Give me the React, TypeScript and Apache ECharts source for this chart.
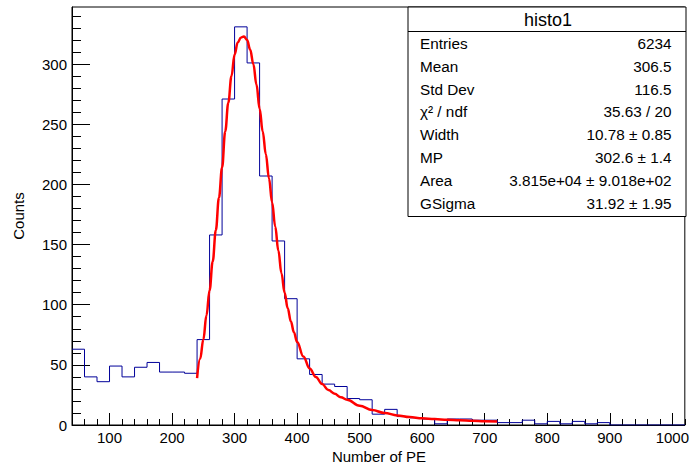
import React, { useEffect, useRef } from "react";
import * as echarts from "echarts";

// Histogram: bins of 20 starting at 40
const BIN_START = 40;
const BIN_WIDTH = 20;
const binCounts = [
  63, 40, 36, 49, 40, 48, 52, 44, 44, 43,
  71, 158, 271, 331, 301, 207, 153, 105, 55, 42,
  34, 32, 22, 21, 9, 13, 7, 6, 5, 1,
  5, 5, 4, 4, 2, 2, 4, 1, 3, 1,
  3, 1, 2, 0, 0, 0, 0, 0, 0,
];

// Fit curve
const fitX = [
  240, 245, 250, 255, 260, 265, 270, 275, 280, 285, 290, 295, 300, 305, 310, 315,
  320, 325, 330, 335, 340, 345, 350, 355, 360, 365, 370, 375, 380, 385, 390, 395,
  400, 410, 420, 430, 440, 450, 460, 470, 480, 500, 520, 540, 560, 580, 600, 620,
  640, 660, 680, 700, 720,
];
const fitY = [
  39, 55, 71, 91, 112, 136, 162, 189, 214, 244, 268, 290, 308, 318, 322, 323,
  320, 312, 300, 283, 263, 244, 225, 205, 185, 165, 145, 126, 110, 97, 86, 77,
  69, 57, 47, 40, 34, 29, 26, 23, 21, 16, 12.5, 10, 8, 6.6, 5.6, 4.9,
  4.3, 3.9, 3.5, 3.2, 2.9,
];

const xMajor = [100, 200, 300, 400, 500, 600, 700, 800, 900, 1000];
const yMajor = [0, 50, 100, 150, 200, 250, 300];

const statsTitle = "histo1";
const statLabels = ["Entries", "Mean", "Std Dev", "χ² / ndf", "Width", "MP", "Area", "GSigma"];
const statValues = [
  "6234",
  "306.5",
  "116.5",
  "35.63 / 20",
  "10.78 ± 0.85",
  "302.6 ± 1.4",
  "3.815e+04 ± 9.018e+02",
  "31.92 ± 1.95",
];

const X_MIN = 40;
const X_MAX = 1020;
const Y_MAX = 347.5;

export default function App() {
  const ref = useRef<HTMLDivElement>(null);
  useEffect(() => {
    if (!ref.current) return;
    const chart = echarts.init(ref.current, null, { renderer: "svg" });
    const font = "Liberation Sans, Arial, Helvetica, sans-serif";

    const histData: number[][] = binCounts.map((c, i) => [BIN_START + i * BIN_WIDTH, c]);
    histData.push([BIN_START + binCounts.length * BIN_WIDTH, binCounts[binCounts.length - 1]]);
    const fitData = fitX.map((x, i) => [x, fitY[i]]);

    const xMinor: number[] = [];
    for (let v = X_MIN; v <= X_MAX; v += 20) xMinor.push(v);
    const yMinor: number[] = [];
    for (let v = 0; v <= 340; v += 10) yMinor.push(v);

    const rowTop = 43.3;
    const rowStep = 22.86;
    const boxL = 408;
    const boxR = 686;
    const boxT = 7;
    const boxB = 216.5;

    const graphics: any[] = [
      {
        type: "rect",
        shape: { x: boxL, y: boxT, width: boxR - boxL, height: boxB - boxT },
        style: { fill: "#fff", stroke: "#000", lineWidth: 1 },
        z: 10,
      },
      {
        type: "line",
        shape: { x1: boxL, y1: 31.5, x2: boxR, y2: 31.5 },
        style: { stroke: "#000", lineWidth: 1 },
        z: 11,
      },
      {
        type: "text",
        x: 548,
        y: 20,
        style: {
          text: statsTitle,
          fontSize: 18,
          fontFamily: font,
          fill: "#000",
          align: "center",
          verticalAlign: "middle",
        },
        z: 11,
      },
      {
        type: "text",
        x: 379,
        y: 456,
        style: {
          text: "Number of PE",
          fontSize: 15,
          fontFamily: font,
          fill: "#000",
          align: "center",
          verticalAlign: "middle",
        },
      },
      {
        type: "text",
        x: 18,
        y: 216,
        rotation: Math.PI / 2,
        style: {
          text: "Counts",
          fontSize: 15,
          fontFamily: font,
          fill: "#000",
          align: "center",
          verticalAlign: "middle",
        },
      },
    ];
    statLabels.forEach((lab, i) => {
      const y = rowTop + i * rowStep;
      graphics.push({
        type: "text",
        x: 420,
        y,
        style: { text: lab, fontSize: 15.3, fontFamily: font, fill: "#000", align: "left", verticalAlign: "middle" },
        z: 11,
      });
      graphics.push({
        type: "text",
        x: 671.5,
        y,
        style: {
          text: statValues[i],
          fontSize: 15.3,
          fontFamily: font,
          fill: "#000",
          align: "right",
          verticalAlign: "middle",
        },
        z: 11,
      });
    });

    const labelStyle = { color: "#000", fontSize: 15, fontFamily: font };

    chart.setOption({
      animation: false,
      backgroundColor: "#fff",
      grid: {
        left: 72,
        right: 6,
        top: 7,
        bottom: 43,
        show: true,
        borderColor: "#000",
        borderWidth: 1,
        backgroundColor: "transparent",
      },
      xAxis: [
        {
          type: "value",
          min: X_MIN,
          max: X_MAX,
          position: "bottom",
          axisLine: { show: true, onZero: false, lineStyle: { color: "#000", width: 1 } },
          axisTick: { show: true, inside: true, length: 12, customValues: xMajor, lineStyle: { color: "#000" } },
          axisLabel: { ...labelStyle, margin: 5, customValues: xMajor, formatter: (v: number) => String(v) },
          splitLine: { show: false },
        },
        {
          type: "value",
          min: X_MIN,
          max: X_MAX,
          position: "bottom",
          axisLine: { show: false },
          axisTick: { show: true, inside: true, length: 6, customValues: xMinor, lineStyle: { color: "#000" } },
          axisLabel: { show: false },
          splitLine: { show: false },
        },
      ],
      yAxis: [
        {
          type: "value",
          min: 0,
          max: Y_MAX,
          position: "left",
          axisLine: { show: true, onZero: false, lineStyle: { color: "#000", width: 1 } },
          axisTick: { show: true, inside: true, length: 18, customValues: yMajor, lineStyle: { color: "#000" } },
          axisLabel: { ...labelStyle, margin: 5, customValues: yMajor, formatter: (v: number) => String(v) },
          splitLine: { show: false },
        },
        {
          type: "value",
          min: 0,
          max: Y_MAX,
          position: "left",
          axisLine: { show: false },
          axisTick: { show: true, inside: true, length: 9, customValues: yMinor, lineStyle: { color: "#000" } },
          axisLabel: { show: false },
          splitLine: { show: false },
        },
      ],
      series: [
        {
          type: "line",
          xAxisIndex: 0,
          yAxisIndex: 0,
          step: "end",
          data: histData,
          symbol: "none",
          lineStyle: { color: "#000099", width: 1 },
          z: 3,
        },
        {
          type: "line",
          xAxisIndex: 0,
          yAxisIndex: 0,
          data: fitData,
          smooth: 0.4,
          smoothMonotone: "x",
          symbol: "none",
          lineStyle: { color: "#ff0000", width: 2.5 },
          z: 4,
        },
      ],
      graphic: graphics,
    });
    return () => chart.dispose();
  }, []);
  return (
    <div
      ref={ref}
      style={{ position: "absolute", left: 0, top: 0, width: 692, height: 468 }}
    />
  );
}
